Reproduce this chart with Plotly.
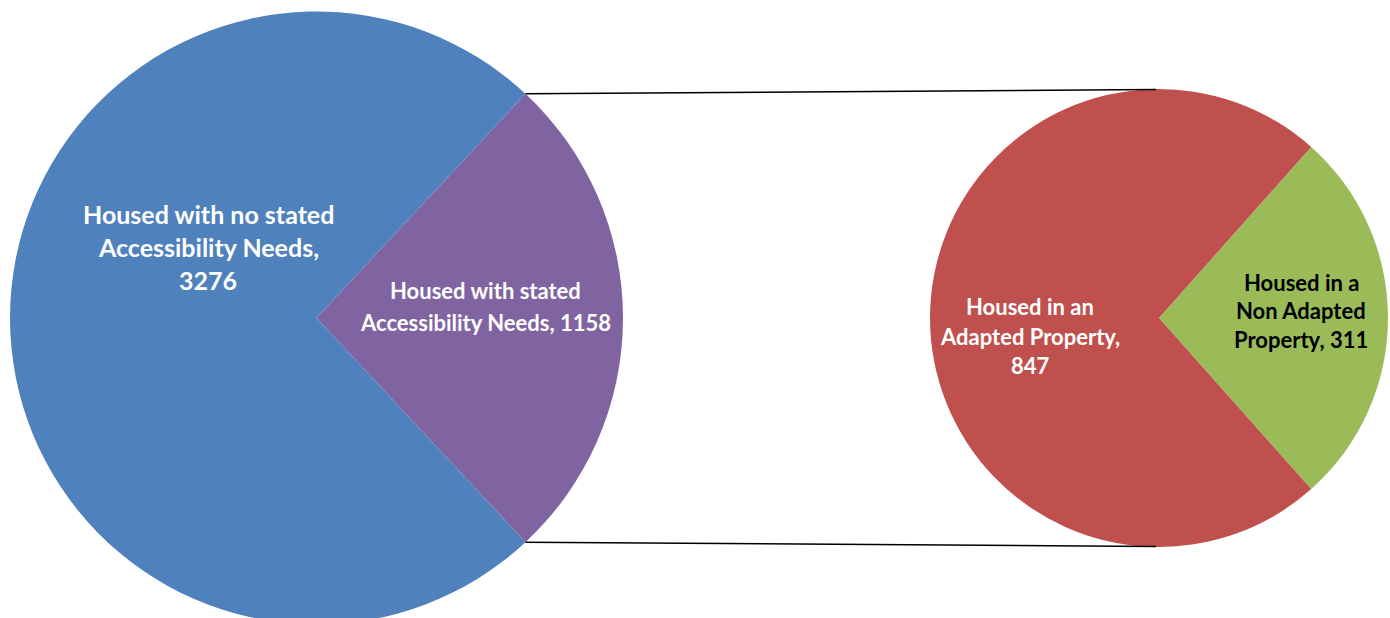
import math
import plotly.graph_objects as go

# Main pie: all housed households
main_labels = ["Housed with stated<br>Accessibility Needs,", "Housed with no stated<br>Accessibility Needs,"]
main_values = [1158, 3276]
main_colors = ["#8064A2", "#4F81BD"]

# Secondary pie: breakdown of households with stated accessibility needs
sub_labels = ["Housed in a<br>Non Adapted<br>Property,", "Housed in an<br>Adapted Property,"]
sub_values = [311, 847]
sub_colors = ["#9BBB59", "#C0504D"]

W, H = 1390, 636


def px(x):
    return x / W


def py(y):
    return 1 - y / H


# Pie geometry in page pixels
L_CX, L_CY, L_R = 316.5, 318.0, 306.5
R_CX, R_CY, R_R = 1159.0, 318.0, 229.0

fig = go.Figure()

main_half = 180.0 * main_values[0] / sum(main_values)
sub_half = 180.0 * sub_values[0] / sum(sub_values)

fig.add_trace(go.Pie(
    values=main_values,
    labels=[l.replace("<br>", " ") for l in main_labels],
    marker=dict(colors=main_colors, line=dict(width=0)),
    sort=False, direction="clockwise", rotation=90 - main_half,
    textinfo="none", showlegend=False,
    domain=dict(x=[px(L_CX - L_R), px(L_CX + L_R)], y=[py(L_CY + L_R), py(L_CY - L_R)]),
))
fig.add_trace(go.Pie(
    values=sub_values,
    labels=[l.replace("<br>", " ") for l in sub_labels],
    marker=dict(colors=sub_colors, line=dict(width=0)),
    sort=False, direction="clockwise", rotation=90 - sub_half,
    textinfo="none", showlegend=False,
    domain=dict(x=[px(R_CX - R_R), px(R_CX + R_R)], y=[py(R_CY + R_R), py(R_CY - R_R)]),
))

# Connector lines from the split slice edges to the top/bottom of the secondary pie
t = math.radians(main_half)
vx = L_CX + L_R * math.cos(t)
for sgn in (-1, 1):
    vy = L_CY + sgn * L_R * math.sin(t)
    ey = R_CY + sgn * R_R
    fig.add_shape(type="line", xref="paper", yref="paper",
                  x0=px(vx), y0=py(vy), x1=px(R_CX - 3), y1=py(ey - sgn * 0.5),
                  line=dict(color="black", width=1.6))


def label(text, cx, first_y, spacing, size, color):
    for i, line in enumerate(text.split("<br>")):
        fig.add_annotation(
            x=px(cx), y=py(first_y + i * spacing), xref="paper", yref="paper",
            text=line, showarrow=False, xanchor="center", yanchor="middle",
            font=dict(family="Lato", size=size, color=color, weight="bold"),
        )


label(f"{main_labels[1]}<br>{main_values[1]}", 208, 214, 33, 25, "white")
label(f"{main_labels[0]} {main_values[0]}", 485, 291, 31, 22, "white")
label(f"{sub_labels[1]}<br>{sub_values[1]}", 1030, 307, 29, 22, "white")
label(f"{sub_labels[0]} {sub_values[0]}", 1301, 282.5, 28.5, 22, "black")

fig.update_layout(
    width=W, height=H,
    margin=dict(l=0, r=0, t=0, b=0),
    paper_bgcolor="white", plot_bgcolor="white",
)

fig.write_html(
    "out.html",
    post_script="document.body.style.margin='0';document.body.style.overflow='hidden';",
)
